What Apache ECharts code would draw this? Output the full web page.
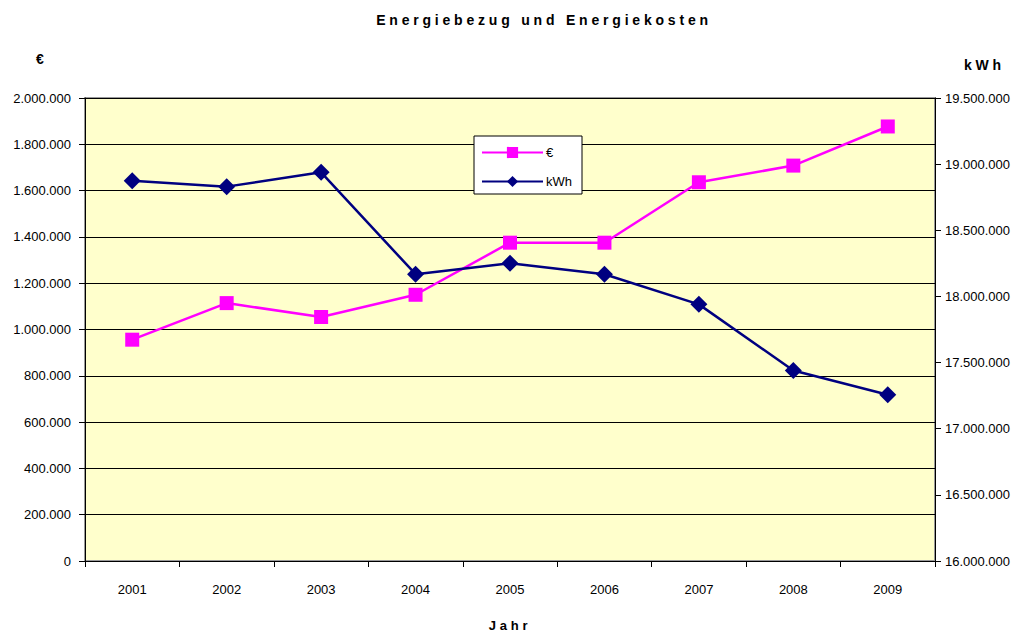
<!DOCTYPE html>
<html>
<head>
<meta charset="utf-8">
<title>Energiebezug und Energiekosten</title>
<script src="https://cdn.jsdelivr.net/npm/echarts@6/dist/echarts.min.js"></script>
<style>
  html, body { margin: 0; padding: 0; background: #fff; overflow: hidden; }
  #chart { width: 1021px; height: 637px; }
  /* bold labels are spaced out in the original */
  #chart text[style*="bold"] { letter-spacing: 3.8px; }
</style>
</head>
<body>
<div id="chart"></div>
<script>
// Jahre
const years = ['2001', '2002', '2003', '2004', '2005', '2006', '2007', '2008', '2009'];
// Energiekosten in €
const euro = [956000, 1114000, 1054000, 1150000, 1375000, 1375000, 1636000, 1708000, 1877000];
// Energiebezug in kWh
const kwh = [18875000, 18830000, 18938000, 18168000, 18250000, 18168000, 17940000, 17440000, 17257000];

const FONT = "'Liberation Sans', Arial, sans-serif";

// 2000000 -> 2.000.000
function fmt(v) {
  return String(Math.round(v)).replace(/\B(?=(\d{3})+(?!\d))/g, '.');
}

let myChart = echarts.init(document.getElementById('chart'), null, { renderer: 'svg' });
let option;

option = {
  backgroundColor: '#fff',
  animation: false,
  textStyle: { fontFamily: FONT },
  title: {
    text: 'Energiebezug und Energiekosten',
    left: 539,
    top: 8,
    textAlign: 'center',
    textStyle: { fontSize: 14, fontWeight: 'bold', color: '#000', fontFamily: FONT }
  },
  legend: {
    left: 474,
    top: 136,
    orient: 'vertical',
    backgroundColor: '#fff',
    borderColor: '#000',
    borderWidth: 1,
    borderRadius: 0,
    padding: [10, 10, 6, 7],
    itemWidth: 61,
    itemHeight: 14,
    itemGap: 16,
    textStyle: { fontSize: 13, color: '#000', fontFamily: FONT, padding: [0, 0, 0, -2] },
    data: ['€', 'kWh']
  },
  grid: {
    left: 85,
    right: 86,
    top: 98,
    bottom: 68,
    show: true,
    backgroundColor: '#FFFFCC',
    borderColor: '#999',
    borderWidth: 2
  },
  xAxis: {
    type: 'category',
    data: years,
    boundaryGap: true,
    name: 'Jahr',
    nameLocation: 'middle',
    nameGap: 58,
    nameTextStyle: { fontSize: 13, fontWeight: 'bold', color: '#000', fontFamily: FONT },
    axisLine: { lineStyle: { color: '#000', width: 1 } },
    axisTick: { show: true, length: 6, lineStyle: { color: '#000' } },
    axisLabel: { margin: 22, fontSize: 13, color: '#000', fontFamily: FONT },
    splitLine: { show: false }
  },
  yAxis: [
    {
      type: 'value',
      min: 0,
      max: 2000000,
      interval: 200000,
      position: 'left',
      axisLine: { show: true, lineStyle: { color: '#000', width: 1 } },
      axisTick: { show: true, length: 6, lineStyle: { color: '#000' } },
      axisLabel: { margin: 14, fontSize: 13, color: '#000', fontFamily: FONT, formatter: fmt },
      splitLine: { show: true, lineStyle: { color: '#000', width: 1 } }
    },
    {
      type: 'value',
      min: 16000000,
      max: 19500000,
      interval: 500000,
      position: 'right',
      axisLine: { show: true, lineStyle: { color: '#000', width: 1 } },
      axisTick: { show: true, length: 6, lineStyle: { color: '#000' } },
      axisLabel: { margin: 10, fontSize: 13, color: '#000', fontFamily: FONT, formatter: fmt },
      splitLine: { show: false }
    }
  ],
  graphic: [
    {
      type: 'text',
      left: 36,
      top: 52,
      style: { text: '€', font: 'bold 14px ' + FONT, fill: '#000' }
    },
    {
      type: 'text',
      left: 964,
      top: 58,
      style: { text: 'kWh', font: 'bold 14px ' + FONT, fill: '#000' }
    }
  ],
  series: [
    {
      name: '€',
      type: 'line',
      yAxisIndex: 0,
      data: euro,
      symbol: 'rect',
      symbolSize: 14,
      lineStyle: { color: '#FF00FF', width: 2.5 },
      itemStyle: { color: '#FF00FF' },
      z: 3
    },
    {
      name: 'kWh',
      type: 'line',
      yAxisIndex: 1,
      data: kwh,
      symbol: 'diamond',
      symbolSize: 17,
      lineStyle: { color: '#000080', width: 2.5 },
      itemStyle: { color: '#000080' },
      z: 4
    }
  ]
};

option && myChart.setOption(option);
</script>
</body>
</html>
